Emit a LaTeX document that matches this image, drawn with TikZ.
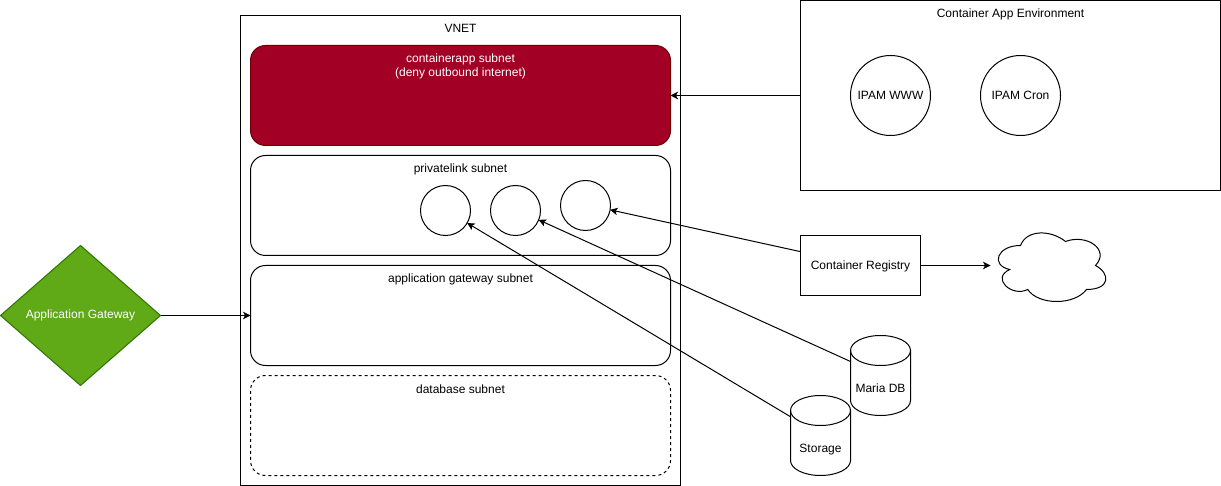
\documentclass[tikz,border=0pt]{standalone}
\usepackage{fontspec}
\setmainfont{Liberation Sans}
\usetikzlibrary{arrows.meta,shapes.geometric}
\definecolor{redfill}{HTML}{A20025}
\definecolor{redline}{HTML}{6F0000}
\definecolor{greenfill}{HTML}{60A917}
\definecolor{greenline}{HTML}{2D7600}
\tikzset{
  every node/.style={font=\fontsize{12}{14}\selectfont,inner sep=0pt,outer sep=0pt},
  box/.style={draw=black,line width=1pt,rectangle,minimum width=#1},
  subnet/.style={draw=black,line width=1pt,rectangle,rounded corners=15pt,minimum width=420pt,minimum height=100pt},
  ep/.style={draw=black,line width=1pt,fill=white,circle,minimum size=50pt},
  svc/.style={draw=black,line width=1pt,circle,minimum size=80pt},
  lbl/.style={align=center},
  link/.style={line width=1pt,-{Stealth[length=7.5pt,width=7.5pt,inset=2pt]}},
  shell/.style={draw=black,line width=1pt,fill=white},
}
\begin{document}
\begin{tikzpicture}[x=1pt,y=-1pt]
\useasboundingbox (0,0) rectangle (1221,486);
% VNET
\node[box=440pt,minimum height=470pt] (vnet) at (460.5,250.5) {};
\node[lbl] (vnetl) at (460.5,28) {VNET};
% subnets
\node[subnet,fill=redfill,draw=redline] (capp) at (460.5,95.5) {};
\node[lbl,text=white] (cappl) at (460.5,66.7) {containerapp subnet\\(deny outbound internet)};
\node[subnet] (plink) at (460.5,205.5) {};
\node[lbl] (plinkl) at (460.5,169.7) {privatelink subnet};
\node[subnet] (agw) at (460.5,315.5) {};
\node[lbl] (agwl) at (460.5,279.7) {application gateway subnet};
\node[subnet,dashed,dash pattern=on 3pt off 3pt] (db) at (460.5,425.5) {};
\node[lbl] (dbl) at (460.5,389.7) {database subnet};
% private endpoints
\node[ep] (e1) at (445.5,210.5) {};
\node[ep] (e2) at (515.5,210.5) {};
\node[ep] (e3) at (585.5,205.5) {};
% container app environment
\node[box=420pt,minimum height=190pt] (cae) at (1010.5,95.5) {};
\node[lbl] (cael) at (1010.5,14.7) {Container App Environment};
\node[svc] (www) at (890.5,95.5) {IPAM WWW};
\node[svc] (cron) at (1020.5,95.5) {IPAM Cron};
% registry
\node[box=120pt,minimum height=60pt,text depth=1.1pt] (reg) at (860.5,265.5) {Container Registry};
% cloud
\node[minimum width=120pt,minimum height=80pt] (cloud) at (1050.5,265.5) {};
\draw[shell] (1020.5,245.5)
  .. controls (996.5,245.5) and (990.5,265.5) .. (1009.7,269.5)
  .. controls (990.5,278.3) and (1012.1,297.5) .. (1027.7,289.5)
  .. controls (1038.5,305.5) and (1074.5,305.5) .. (1086.5,289.5)
  .. controls (1110.5,289.5) and (1110.5,273.5) .. (1095.5,265.5)
  .. controls (1110.5,249.5) and (1086.5,233.5) .. (1065.5,241.5)
  .. controls (1050.5,229.5) and (1026.5,229.5) .. (1020.5,245.5) -- cycle;
% Maria DB
\node[minimum width=60pt,minimum height=80pt] (maria) at (880.5,375.5) {};
\draw[shell] (850.5,350.5)
  .. controls (850.5,342.2) and (863.9,335.5) .. (880.5,335.5)
  .. controls (897.1,335.5) and (910.5,342.2) .. (910.5,350.5)
  -- (910.5,400.5)
  .. controls (910.5,408.8) and (897.1,415.5) .. (880.5,415.5)
  .. controls (863.9,415.5) and (850.5,408.8) .. (850.5,400.5) -- cycle;
\draw[line width=1pt] (850.5,350.5) .. controls (850.5,358.8) and (863.9,365.5) .. (880.5,365.5)
  .. controls (897.1,365.5) and (910.5,358.8) .. (910.5,350.5);
\node[lbl] (marial) at (880.5,388.5) {Maria DB};
% Storage
\node[minimum width=60pt,minimum height=80pt] (stor) at (820.5,435.5) {};
\draw[shell] (790.5,410.5)
  .. controls (790.5,402.2) and (803.9,395.5) .. (820.5,395.5)
  .. controls (837.1,395.5) and (850.5,402.2) .. (850.5,410.5)
  -- (850.5,460.5)
  .. controls (850.5,468.8) and (837.1,475.5) .. (820.5,475.5)
  .. controls (803.9,475.5) and (790.5,468.8) .. (790.5,460.5) -- cycle;
\draw[line width=1pt] (790.5,410.5) .. controls (790.5,418.8) and (803.9,425.5) .. (820.5,425.5)
  .. controls (837.1,425.5) and (850.5,418.8) .. (850.5,410.5);
\node[lbl] (storl) at (820.5,449.2) {Storage};
% gateway
\node[diamond,aspect=1.142857,draw=greenline,fill=greenfill,line width=1pt,minimum width=160pt,minimum height=140pt] (gw) at (80.5,315.5) {};
\node[lbl,text=white] (gwl) at (80.5,315.7) {Application Gateway};
% connectors
\draw[link] (gw.east) -- (agw.west);
\draw[link] (cae.west) -- (capp.east);
\draw[link] (reg.east) -- (cloud.west);
\draw[link] (reg.167) -- (e3.-10);
\draw[link] (maria.155) -- (e2.-22);
\draw[link] (stor.148) -- (e1.-30);
\end{tikzpicture}
\end{document}
